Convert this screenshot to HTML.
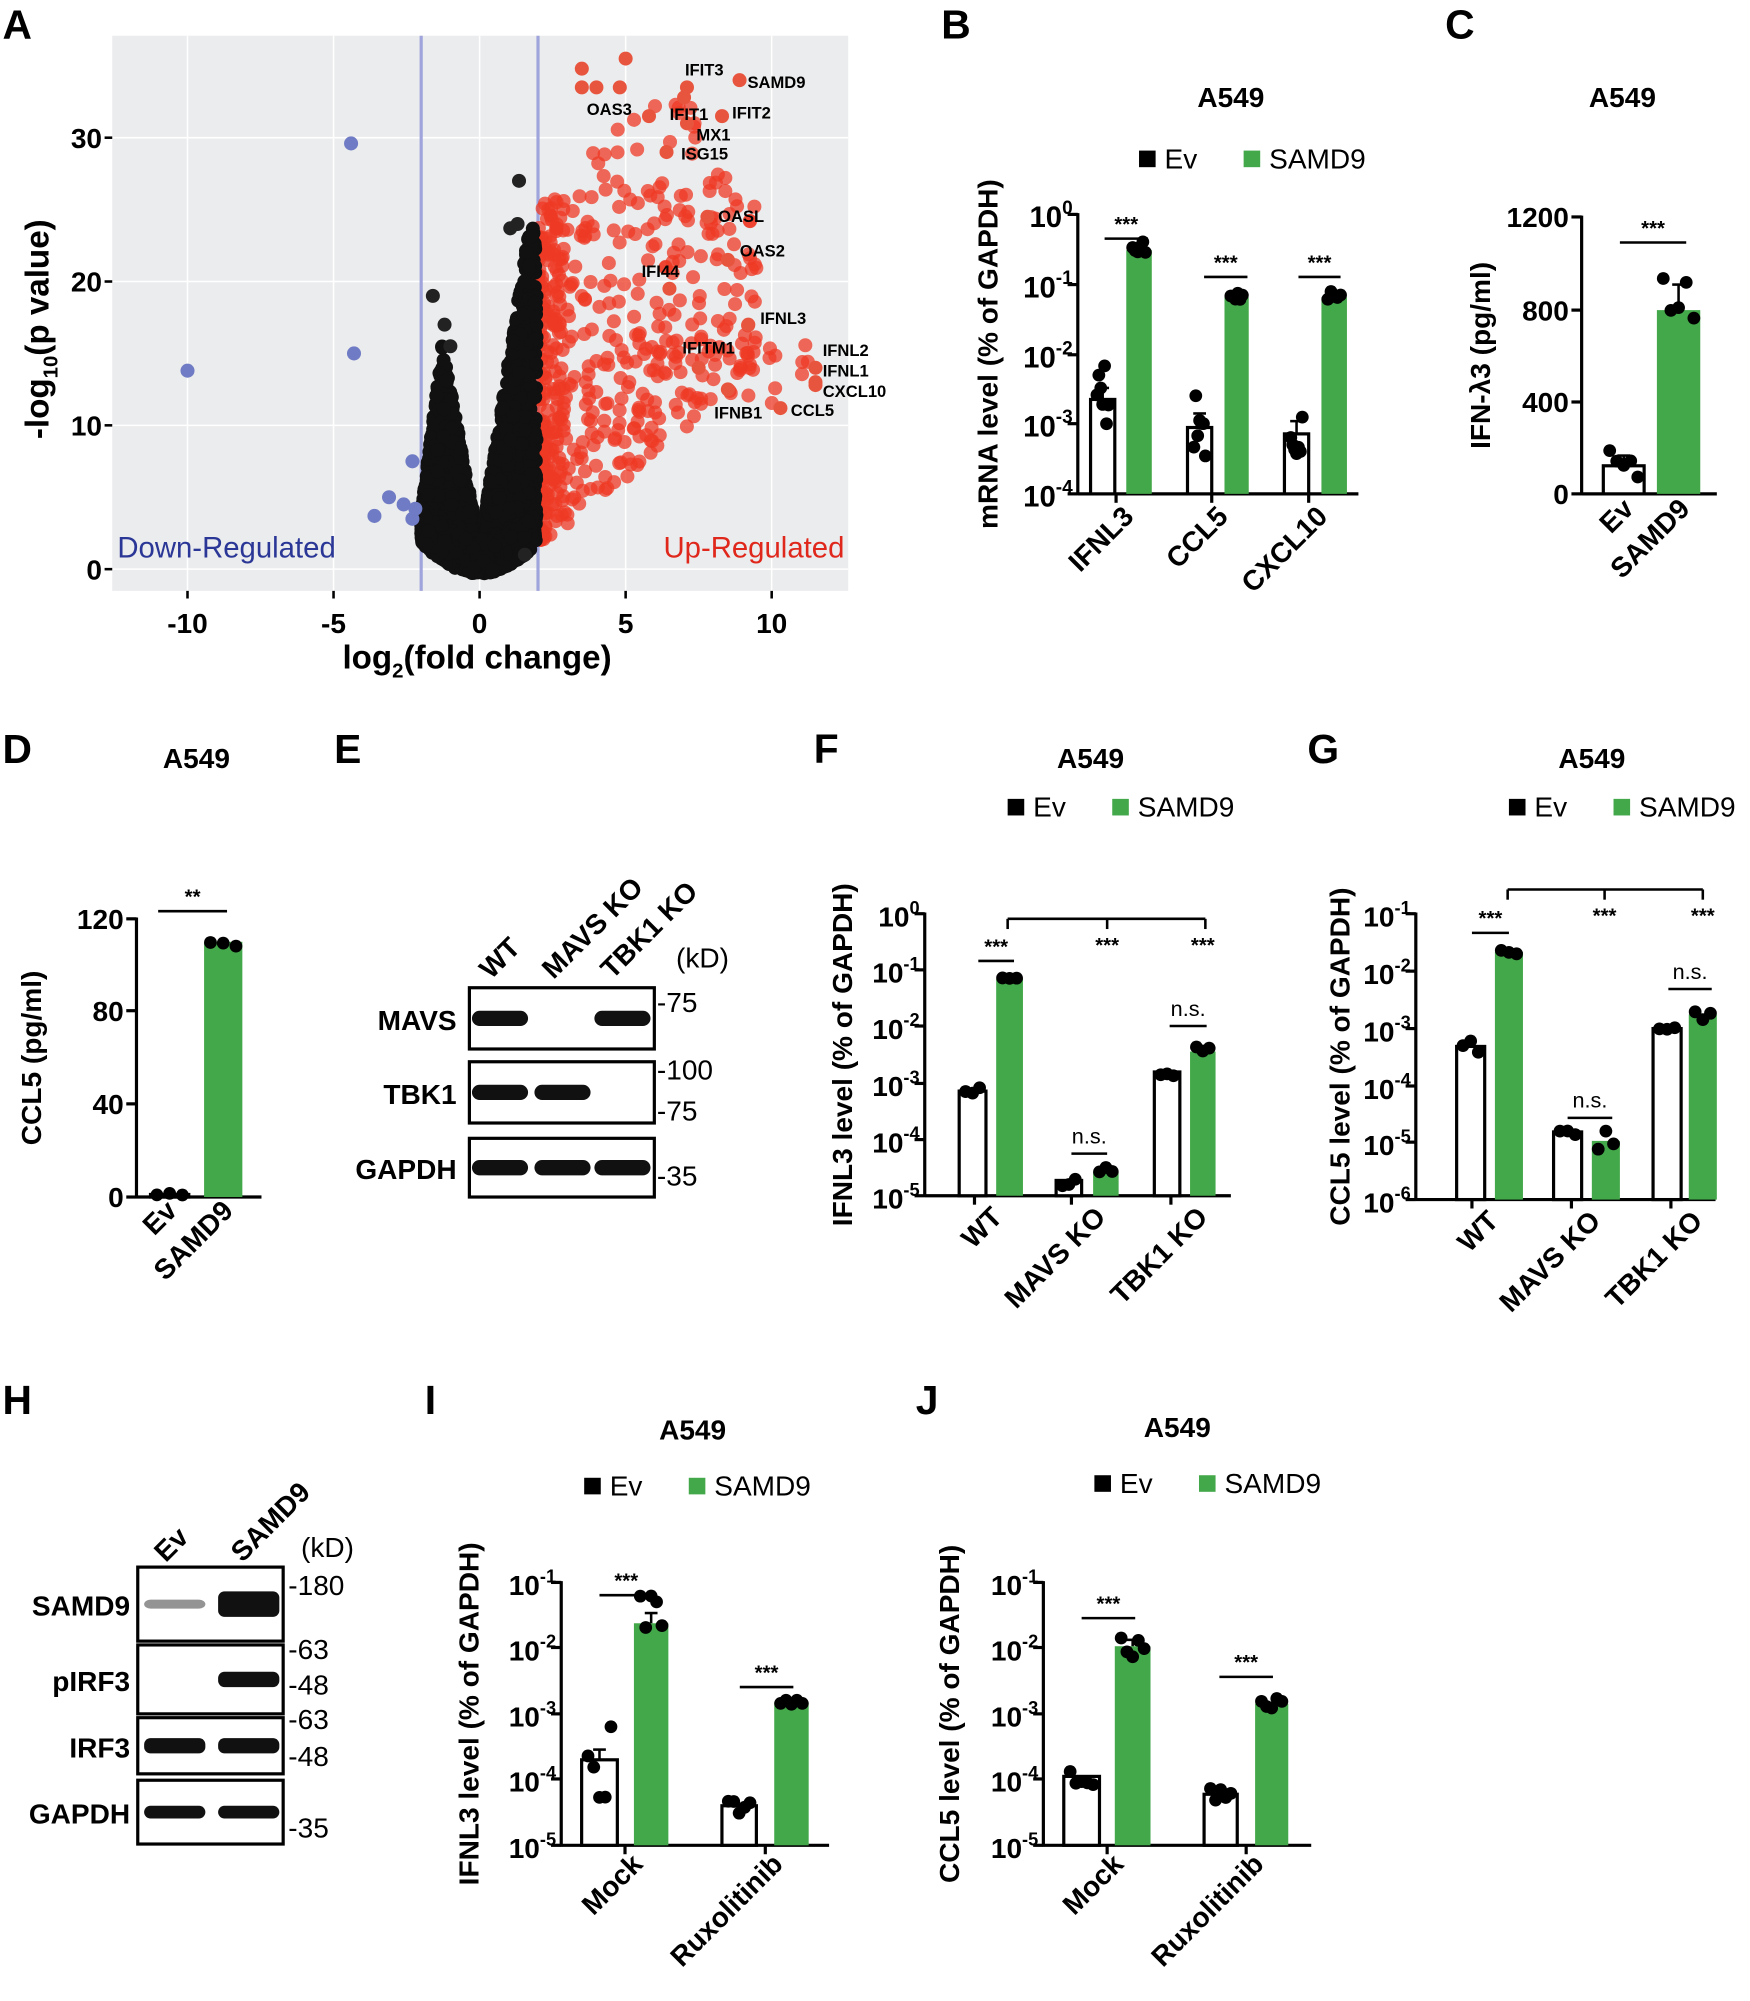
<!DOCTYPE html>
<html><head><meta charset="utf-8"><style>
html,body{margin:0;padding:0;background:#fff}
svg{display:block}
text{font-family:"Liberation Sans",Arial,sans-serif}
</style></head><body>
<svg id="s" width="1750" height="2001" viewBox="0 0 1372 1568" preserveAspectRatio="none" xmlns="http://www.w3.org/2000/svg"></svg>
<script>
var o=[];var G='#43a84a';
var seed=7;function R(){seed=(seed*16807)%2147483647;return (seed-1)/2147483646;}
function t(x,y,s,sz,opt){opt=opt||{};o.push('<text x="'+x+'" y="'+y+'" font-size="'+sz+'" font-weight="'+(opt.n?'normal':'bold')+'" fill="'+(opt.f||'#000')+'" text-anchor="'+(opt.a||'start')+'"'+(opt.r!=null?' transform="rotate('+opt.r+' '+x+' '+y+')"':'')+'>'+s+'</text>');}
function L(x1,y1,x2,y2,w,c){o.push('<line x1="'+x1+'" y1="'+y1+'" x2="'+x2+'" y2="'+y2+'" stroke="'+(c||'#000')+'" stroke-width="'+(w||2)+'"/>');}
function C(x,y,r,f,op){o.push('<circle cx="'+x+'" cy="'+y+'" r="'+r+'" fill="'+f+'"'+(op?' fill-opacity="'+op+'"':'')+'/>');}
function Rc(x,y,w,h,f,s,sw){o.push('<rect x="'+x+'" y="'+y+'" width="'+w+'" height="'+h+'" fill="'+f+'"'+(s?' stroke="'+s+'" stroke-width="'+(sw||2)+'"':'')+'/>');}
// ---------- Panel A
t(2,30,'A',32);
Rc(88,28,577,435,'#ebeced');
var X=function(v){return 376+v*22.9},Y=function(v){return 446-v*11.27};
[-10,-5,0,5,10].forEach(function(v){L(X(v),28,X(v),463,1.2,'#fff');});
[0,10,20,30].forEach(function(v){L(88,Y(v),665,Y(v),1.2,'#fff');});
L(X(-2),28,X(-2),463,2.5,'#9fa5dc');L(X(2),28,X(2),463,2.5,'#9fa5dc');
// red
var reds=[];
for(var i=0;i<420;i++){var x=2+Math.pow(R(),1.7)*7.5;var lo=Math.max(2,(x-2)*1.6+1.5);var hi=Math.min(33,24+(x-2)*3);if(x>7)hi=Math.min(hi,33-(x-7)*3);var y=lo+R()*(hi-lo);if(R()<0.35)y=lo+R()*(hi-lo)*0.4;reds.push([x,y]);}
for(var i=0;i<120;i++){var x=2+R()*0.9;reds.push([x,2+R()*24]);}
for(var i=0;i<12;i++){reds.push([9+R()*2.5,11+R()*5]);}
reds.forEach(function(p){C(X(p[0]),Y(p[1]),5.5,'#ee3a24',0.75);});
// black
function lowb(x){return 0.55*x*x-0.3;}
for(var i=0;i<2200;i++){var x=-2+R()*3.95;var a=Math.abs(x);var lim;if(x>=0)lim=Math.min(24,1.5+13*x);else{lim=a<1.3?1.5+11*a:15-(a-1.3)*16;}lim=Math.max(lim,2.5);var lb=lowb(x);var y=lb+R()*Math.max(0,lim-lb);C(X(x),Y(y),5.5,'#111');}
for(var i=0;i<500;i++){var x=(R()-0.5)*3.9;var lb=lowb(x);C(X(x),Y(lb+R()*2.5),5.5,'#111');}
[[-1.6,19],[-1.2,17],[-1.0,15.5],[1.35,27],[1.3,24],[1.05,23.7],[1.55,1]].forEach(function(p){C(X(p[0]),Y(p[1]),5.5,'#222')});
var lab=[[8.9,34,'SAMD9',586,69],[7.1,33.5,'IFIT3',537,59],[8.3,31.5,'IFIT2',574,93],[7.1,31,'MX1',546,110],[6.4,29,'ISG15',534,125],[7.8,24.5,'OASL',563,174],[8.5,21.5,'OAS2',580,201],[3.5,33.5,'OAS3',460,90],[9.2,17,'IFNL3',596,254],[11.5,14,'IFNL2',645,279],[11.5,13,'IFNL1',645,295],[11.5,12.8,'CXCL10',645,311],[10.3,11.2,'CCL5',620,326],[6.5,19.5,'IFI44',503,217],[7.5,14,'IFITM1',535,277],[8.5,12.5,'IFNB1',560,328],[7.0,32.8,'IFIT1',525,94],[5.0,35.5,'',0,0],[3.5,34.8,'',0,0],[4.0,33.5,'',0,0],[4.8,33.5,'',0,0],[5.8,31.5,'',0,0]];
lab.forEach(function(l){C(X(l[0]),Y(l[1]),5.5,'#e8553e');if(l[2])t(l[3],l[4],l[2],13);});
[[-4.4,29.6],[-4.3,15],[-10,13.8],[-2.3,7.5],[-3.1,5],[-2.6,4.5],[-3.6,3.7],[-2.3,3.5],[-2.2,4.2]].forEach(function(p){C(X(p[0]),Y(p[1]),5.5,'#6f7bc4')});
t(92,437,'Down-Regulated',23,{n:1,f:'#2b3796'});t(662,437,'Up-Regulated',23,{n:1,f:'#e0271b',a:'end'});
[-10,-5,0,5,10].forEach(function(v){L(X(v),463,X(v),469,2);t(X(v),496,v,22,{a:'middle'});});
[0,10,20,30].forEach(function(v){L(82,Y(v),88,Y(v),2);t(80,Y(v)+8,v+'',22,{a:'end'});});
o.push('<text x="374" y="524" font-size="26" font-weight="bold" text-anchor="middle">log<tspan font-size="16" dy="7">2</tspan><tspan dy="-7">(fold change)</tspan></text>');
o.push('<text transform="translate(38 258) rotate(-90)" font-size="26" font-weight="bold" text-anchor="middle">-log<tspan font-size="16" dy="7">10</tspan><tspan dy="-7">(p value)</tspan></text>');
// helpers
function logTick(x,y,e,sz){o.push('<text x="'+x+'" y="'+y+'" font-size="'+sz+'" font-weight="bold" text-anchor="end">10<tspan font-size="'+(sz*0.65)+'" dy="-'+(sz*0.45)+'">'+e+'</tspan></text>');}
function axis(ax,y0,y1,xe,ticks,sz,ylab,labx){L(ax,y0-1,ax,y1+1,2.5);L(ax,y1,xe,y1,2.5);ticks.forEach(function(k){L(ax-8,k[0],ax,k[0],2.5);if(k[2])t(ax-10,k[0]+8,k[1],sz,{a:'end'});else logTick(ax-4,k[0]+10,k[1],sz);});
 o.push('<text transform="translate('+labx+' '+(y0+y1)/2+') rotate(-90)" font-size="22" font-weight="bold" text-anchor="middle">'+ylab+'</text>');}
function bar(x,w,top,base,green,n,spread,err){Rc(x,top,w,base-top,green?G:'#fff',green?null:'#000',2.5);
 var e=err==null?3:err;if(e>0){L(x+w/2,top-e,x+w/2,top,2);L(x+w/2-5,top-e,x+w/2+5,top-e,2);}
 for(var i=0;i<n;i++){var dx=(n==1?0:(i/(n-1)-0.5)*(w-10));var dy=(R()-0.5)*2*(spread||4);C(x+w/2+dx,top+dy,5,'#000');}}
function xl(x,y,s,sz){t(x,y,s,sz||22,{a:'end',r:-45});}
function ll(x,y,s,sz){t(x,y,s,sz||22,{a:'start',r:-45});}
function legend(x,y){Rc(x,y-12,13,13,'#000');t(x+20,y+2,'Ev',22,{n:1});Rc(x+82,y-12,13,13,G);t(x+102,y+2,'SAMD9',22,{n:1});}
function star(x1,x2,y,s){L(x1,y,x2,y,2);t((x1+x2)/2,y-(s=='n.s.'?8:6),s,s=='n.s.'?17:16,{a:'middle',n:s=='n.s.'});}
// ---------- Panel B
t(738,30,'B',32);t(965,84,'A549',22,{a:'middle'});legend(893,130);
axis(845,168,387,1065,[[168,'0'],[223,'-1'],[278,'-2'],[332,'-3'],[387,'-4']],23,'mRNA level (% of GAPDH)',782);
bar(855,19,313,387,0,7,28,9);bar(883,20,196,387,1,6,7,0);bar(931,19,335,387,0,7,27,11);bar(960,19,233,387,1,6,4,0);bar(1007,19,340,387,0,7,27,10);bar(1036,20,233,387,1,5,5,0);
star(866,900,187,'***');star(944,978,217,'***');star(1018,1051,217,'***');
[875,950,1026].forEach(function(x){L(x,387,x,394,2.5)});
xl(890,406,'IFNL3');xl(964,406,'CCL5');xl(1042,406,'CXCL10');
// ---------- Panel C
t(1133,30,'C',32);t(1272,84,'A549',22,{a:'middle'});
axis(1240,170,387,1346,[[170,'1200',1],[243,'800',1],[315,'400',1],[387,'0',1]],22,'IFN-λ3 (pg/ml)',1168);
bar(1257,32,365,387,0,5,12,8);bar(1299,34,243,387,1,5,30,20);star(1270,1322,190,'***');
xl(1282,400,'Ev');xl(1326,400,'SAMD9');
// ---------- Panel D
t(2,598,'D',32);t(154,602,'A549',22,{a:'middle'});
axis(107,720,938,205,[[720,'120',1],[792,'80',1],[865,'40',1],[938,'0',1]],22,'CCL5 (pg/ml)',32);
bar(118,30,936,938,0,3,1,0);bar(160,30,738,938,1,3,5,0);star(124,178,714,'**');
xl(140,950,'Ev');xl(184,950,'SAMD9');
// ---------- Panel E
t(262,598,'E',32);
ll(385,768,'WT',22);ll(434,768,'MAVS KO',22);ll(480,768,'TBK1 KO',22);t(530,758,'(kD)',22,{n:1});
[[774,822,'MAVS',[1,0,1],['-75',793]],[832,880,'TBK1',[1,1,0],['-100',846,'-75',878]],[892,938,'GAPDH',[1,1,1],['-35',929]]].forEach(function(b){
 Rc(368,b[0],145,b[1]-b[0],'#fff','#000',2.5);t(358,(b[0]+b[1])/2+9,b[2],22,{a:'end'});
 var cx=[392,441,488];b[3].forEach(function(v,i){if(v)o.push('<rect x="'+(cx[i]-22)+'" y="'+((b[0]+b[1])/2-6)+'" width="44" height="12" rx="6" fill="#111"/>');});
 var m=b[4];for(var k=0;k<m.length;k+=2)t(515,m[k+1],m[k],22,{n:1});});
// ---------- Panel F
t(638,598,'F',32);t(855,602,'A549',22,{a:'middle'});legend(790,638);
axis(725,716,937,965,[[716,'0'],[760,'-1'],[804,'-2'],[849,'-3'],[893,'-4'],[937,'-5']],22,'IFNL3 level (% of GAPDH)',668);
bar(752,21,855,937,0,3,3,0);bar(781,21,767,937,1,3,1,0);bar(828,20,925,937,0,3,5,0);bar(857,20,918,937,1,3,4,0);bar(905,20,840,937,0,3,8,0);bar(933,20,824,937,1,3,5,0);
star(767,795,753,'***');star(840,868,904,'n.s.');star(917,946,804,'n.s.');
L(790,720,945,720,2);L(790,720,790,728,2);L(868,720,868,728,2);L(945,720,945,728,2);t(868,746,'***',16,{a:'middle'});t(943,746,'***',16,{a:'middle'});
[764,840,918].forEach(function(x){L(x,937,x,944,2.5)});
xl(787,955,'WT');xl(868,955,'MAVS KO');xl(948,955,'TBK1 KO');
// ---------- Panel G
t(1025,598,'G',32);t(1248,602,'A549',22,{a:'middle'});legend(1183,638);
axis(1110,716,940,1345,[[716,'-1'],[761,'-2'],[806,'-3'],[851,'-4'],[895,'-5'],[940,'-6']],22,'CCL5 level (% of GAPDH)',1058);
bar(1142,22,820,940,0,3,5,0);bar(1172,22,746,940,1,3,2,0);bar(1218,22,887,940,0,3,5,0);bar(1248,22,894,940,1,3,8,0);bar(1296,22,806,940,0,3,2,0);bar(1324,22,795,940,1,3,6,0);
star(1154,1183,731,'***');star(1229,1264,876,'n.s.');star(1308,1342,775,'n.s.');
L(1182,697,1335,697,2);L(1182,697,1182,705,2);L(1258,697,1258,705,2);L(1335,697,1335,705,2);t(1258,723,'***',16,{a:'middle'});t(1335,723,'***',16,{a:'middle'});
[1154,1232,1310].forEach(function(x){L(x,940,x,947,2.5)});
xl(1176,958,'WT');xl(1256,958,'MAVS KO');xl(1336,958,'TBK1 KO');
// ---------- Panel H
t(2,1108,'H',32);
ll(130,1225,'Ev',22);ll(190,1225,'SAMD9',22);t(236,1220,'(kD)',22,{n:1});
[[1228,1286,'SAMD9',[[0.45,7],[1,20]],['-180',1250]],[1289,1343,'pIRF3',[[0,0],[1,12]],['-63',1300,'-48',1328]],[1346,1390,'IRF3',[[1,12],[1,12]],['-63',1355,'-48',1384]],[1395,1445,'GAPDH',[[1,10],[1,10]],['-35',1440]]].forEach(function(b){
 Rc(108,b[0],114,b[1]-b[0],'#fff','#000',2.5);t(102,(b[0]+b[1])/2+9,b[2],22,{a:'end'});
 var cx=[137,195];b[3].forEach(function(v,i){if(v[0])o.push('<rect x="'+(cx[i]-24)+'" y="'+((b[0]+b[1])/2-v[1]/2)+'" width="48" height="'+v[1]+'" rx="5" fill="#111" fill-opacity="'+v[0]+'"/>');});
 var m=b[4];for(var k=0;k<m.length;k+=2)t(226,m[k+1],m[k],22,{n:1});});
// ---------- Panel I
t(333,1108,'I',32);t(543,1128,'A549',22,{a:'middle'});legend(458,1170);
axis(440,1240,1446,650,[[1240,'-1'],[1291,'-2'],[1343,'-3'],[1394,'-4'],[1446,'-5']],22,'IFNL3 level (% of GAPDH)',375);
bar(456,28,1379,1446,0,5,30,8);bar(497,27,1272,1446,1,5,22,8);bar(566,27,1415,1446,0,5,6,0);bar(607,27,1334,1446,1,5,2,0);
star(470,512,1250,'***');star(580,622,1322,'***');
[490,600].forEach(function(x){L(x,1446,x,1453,2.5)});
xl(505,1462,'Mock');xl(615,1462,'Ruxolitinib');
// ---------- Panel J
t(718,1108,'J',32);t(923,1126,'A549',22,{a:'middle'});legend(858,1168);
axis(818,1240,1446,1028,[[1240,'-1'],[1291,'-2'],[1343,'-3'],[1394,'-4'],[1446,'-5']],22,'CCL5 level (% of GAPDH)',752);
bar(834,28,1392,1446,0,5,7,0);bar(874,28,1290,1446,1,5,12,5);bar(944,26,1406,1446,0,5,5,0);bar(984,26,1335,1446,1,5,6,0);
star(848,890,1268,'***');star(956,998,1314,'***');
[868,977].forEach(function(x){L(x,1446,x,1453,2.5)});
xl(882,1462,'Mock');xl(992,1462,'Ruxolitinib');
document.getElementById('s').innerHTML=o.join('');
</script>
</body></html>
